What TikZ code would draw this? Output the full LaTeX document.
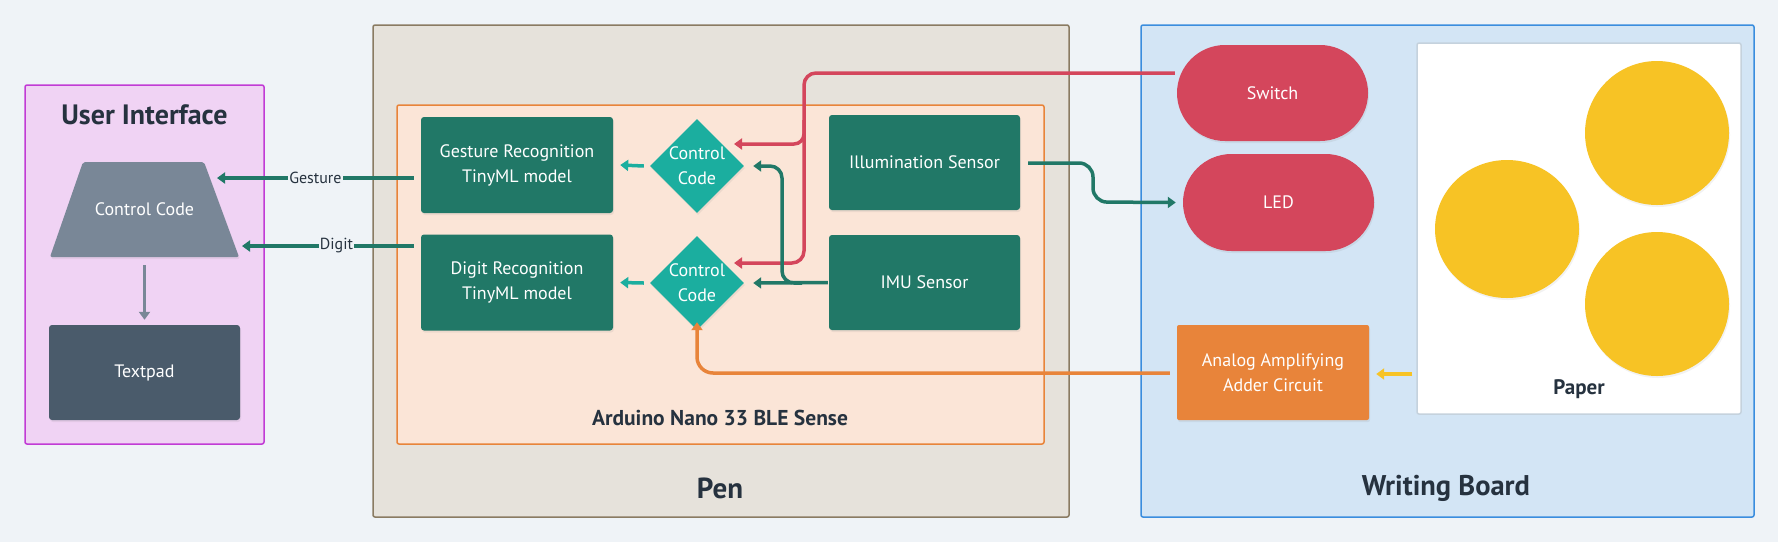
\documentclass[tikz,border=0pt]{standalone}
\usepackage{fontspec}
\setmainfont{PT Sans}
\usetikzlibrary{shapes.geometric,shapes.misc,arrows.meta,shadows}
\definecolor{bgc}{HTML}{EFF3F7}
\definecolor{uifill}{HTML}{F0D3F4}
\definecolor{uiline}{HTML}{C13BD5}
\definecolor{trapc}{HTML}{798797}
\definecolor{padc}{HTML}{4A5B6B}
\definecolor{penfill}{HTML}{E6E2DB}
\definecolor{penline}{HTML}{8A7B62}
\definecolor{ardfill}{HTML}{FBE5D7}
\definecolor{orangec}{HTML}{E8843A}
\definecolor{darkteal}{HTML}{217867}
\definecolor{liteteal}{HTML}{1BAE9F}
\definecolor{redc}{HTML}{D4465C}
\definecolor{yellowc}{HTML}{F7C325}
\definecolor{wbfill}{HTML}{D3E5F5}
\definecolor{wbline}{HTML}{3A8DDE}
\definecolor{paperline}{HTML}{C5D2DD}
\definecolor{darktext}{HTML}{26323F}
\tikzset{
  grp/.style={draw, line width=1.5pt, rounded corners=2pt, inner sep=0pt},
  shad/.style={drop shadow={opacity=0.12, shadow xshift=1pt, shadow yshift=-2pt}},
  boxw/.style={rectangle, rounded corners=3pt, text=white, font=\fontsize{18}{25}\selectfont, align=center, inner sep=0pt, shad},
  wtxt/.style={text=white, font=\fontsize{18}{25}\selectfont, align=center, inner sep=0pt},
  ttl/.style={font=\bfseries\fontsize{#1}{#1}\selectfont, text=darktext, inner sep=0pt},
  con/.style={line width=3.5pt, -{Triangle[length=8pt,width=11pt]}},
  lbl/.style={fill=bgc, text=darktext, font=\fontsize{16}{16}\selectfont, inner sep=1pt},
  dia/.style={diamond, fill=liteteal, minimum width=94pt, minimum height=94pt, inner sep=0pt, shad},
  stad/.style={rounded rectangle, fill=redc, text=white, inner sep=0pt, font=\fontsize{18}{22}\selectfont, shad},
  dot/.style={fill=yellowc, drop shadow={opacity=0.1, shadow xshift=1pt, shadow yshift=-2pt}}
}
\begin{document}
\begin{tikzpicture}[x=1pt,y=-1pt]
\useasboundingbox (0,0) rectangle (1778,542);
\fill[bgc] (0,0) rectangle (1778,542);
% group frames
\node[grp, fill=uifill, draw=uiline, minimum width=239pt, minimum height=359pt] (ui) at (144.5,264.5) {};
\node[grp, fill=penfill, draw=penline, minimum width=696pt, minimum height=492pt] (pen) at (721,271) {};
\node[grp, fill=ardfill, draw=orangec, minimum width=647pt, minimum height=339pt] (ard) at (720.5,274.5) {};
\node[grp, fill=wbfill, draw=wbline, minimum width=613pt, minimum height=492pt] (wb) at (1447.5,271) {};
\node[ttl=28] (uit) at (144.5,115) {User Interface};
\node[ttl=29] (pent) at (720,488) {Pen};
\node[ttl=21.5] (ardt) at (720,418) {Arduino Nano 33 BLE Sense};
\node[ttl=28.5] (wbt) at (1446,488) {Writing Board};
% UI
\coordinate (ta) at (83,162);
\coordinate (tb) at (204,162);
\coordinate (tc) at (239,257);
\coordinate (td) at (50,257);
\fill[trapc, rounded corners=2pt, shad] (ta) -- (tb) -- (tc) -- (td) -- cycle;
\node[wtxt, minimum width=121pt, minimum height=95pt] (trap) at (144.5,209.5) {Control Code};
\node[boxw, fill=padc, minimum width=191pt, minimum height=95pt] (pad) at (144.5,372.5) {Textpad};
\draw[line width=3.5pt, trapc, -{Triangle[length=8pt,width=11pt]}] ([yshift=-8pt]trap.south) -- ([yshift=5pt]pad.north);
% Pen
\node[boxw, fill=darkteal, minimum width=192pt, minimum height=96pt] (gest) at (517,165) {Gesture Recognition\\TinyML model};
\node[boxw, fill=darkteal, minimum width=192pt, minimum height=96pt] (dig) at (517,282.5) {Digit Recognition\\TinyML model};
\node[dia] (d1) at (697,166) {};
\node[wtxt] (d1t) at (d1.center) {Control\\Code};
\node[dia] (d2) at (697,283) {};
\node[wtxt] (d2t) at (d2.center) {Control\\Code};
\node[boxw, fill=darkteal, minimum width=191pt, minimum height=95pt] (ill) at (924.5,162.5) {Illumination Sensor};
\node[boxw, fill=darkteal, minimum width=191pt, minimum height=95pt] (imu) at (924.5,282.5) {IMU Sensor};
% Writing board
\node[stad, minimum width=191pt, minimum height=96pt] (sw) at (1272.5,93) {Switch};
\node[stad, minimum width=191pt, minimum height=97pt] (led) at (1278.5,202.5) {LED};
\node[boxw, fill=orangec, rounded corners=2pt, minimum width=192pt, minimum height=95pt] (amp) at (1273,372.5) {Analog Amplifying\\Adder Circuit};
\node[draw=paperline, line width=1.5pt, fill=white, rounded corners=2pt, minimum width=324pt, minimum height=371pt, inner sep=0pt] (paper) at (1579,228.5) {};
\fill[dot] (1657,133) circle (72pt);
\fill[dot] (1507,229) ellipse (72pt and 69pt);
\fill[dot] (1657,304) circle (72pt);
\node[ttl=21] (papert) at (1579,389) {Paper};
% coordinates
\coordinate (gtip) at (217,178);
\coordinate (dtip) at (242,246);
\coordinate (redv) at (804,73);
\coordinate (tealv) at (782,283);
% connectors to UI
\draw[con, darkteal] ([xshift=-7pt]gest.west |- gtip) -- (gtip) node[lbl, pos=0.5] (gl) {Gesture};
\draw[con, darkteal] ([xshift=-7pt]dig.west |- dtip) -- (dtip) node[lbl, pos=0.45] (dl) {Digit};
% control code -> models
\draw[con, liteteal] ([xshift=-6pt]d1.west) -- ([xshift=7pt]gest.east);
\draw[con, liteteal] ([xshift=-6pt]d2.west) -- ([xshift=7pt]dig.east);
% switch
\draw[con, redc, rounded corners=12pt] ([xshift=-2pt]sw.west |- redv) -- (redv) -- (redv |- 0,263) -- (734,263);
\draw[con, redc, rounded corners=10pt] (redv |- 0,120) -- (redv |- 0,144) -- (734,144);
% IMU
\draw[con, darkteal] ([xshift=-1pt]imu.west) -- ([xshift=9pt]d2.east);
\draw[con, darkteal, rounded corners=12pt] ([xshift=20pt]tealv) -- (tealv) -- (tealv |- d1.east) -- ([xshift=9pt]d1.east);
% illumination -> LED
\draw[con, darkteal, rounded corners=14pt] ([xshift=8pt]ill.east |- 0,163) -- (1093,163) -- (1093,202) -- ([xshift=-7pt]led.west);
% amp -> d2
\draw[con, orangec, rounded corners=16pt] ([xshift=-7pt]amp.west |- 0,373) -- (d2.south |- 0,373) -- ([yshift=8pt]d2.south);
% paper -> amp
\draw[con, yellowc] ([xshift=-4pt]paper.west |- 0,374) -- ([xshift=7pt]amp.east |- 0,374);
\end{tikzpicture}
\end{document}
